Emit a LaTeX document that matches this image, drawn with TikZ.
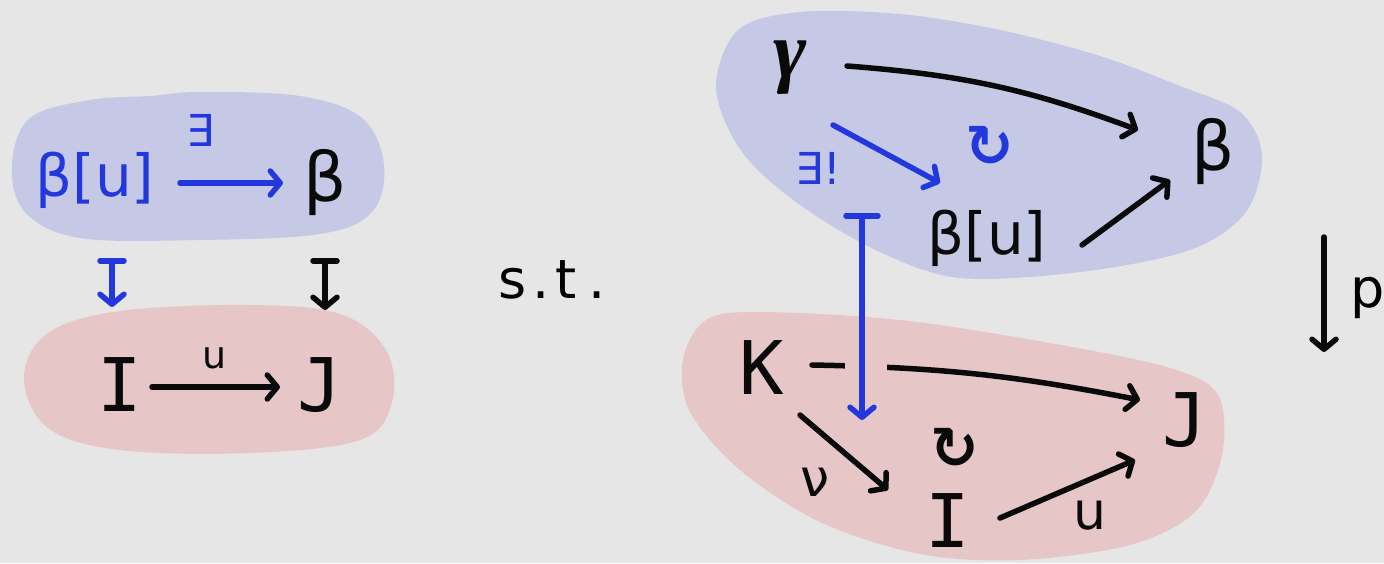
\documentclass[tikz,border=0pt]{standalone}
\usepackage{fontspec}
\usetikzlibrary{arrows.meta}
\newfontfamily\hand{DejaVu Sans}
\newfontfamily\handbold{DejaVu Sans Bold}
\newfontfamily\handmono{DejaVu Sans Mono}
\newfontfamily\loopfont{Liberation Serif}

\definecolor{paper}{HTML}{E6E6E6}
\definecolor{blueblob}{HTML}{C5C9E6}
\definecolor{pinkblob}{HTML}{E6C6C6}
\definecolor{ink}{HTML}{0A0A0A}
\definecolor{blueink}{HTML}{2238DC}

\tikzset{
  x=1pt, y=-1pt,
  >={Straight Barb[length=10pt,width=24pt,line cap=round,line join=round]},
  greek/.style={font=\hand\fontsize{68}{68}\selectfont, inner sep=0pt, text=ink},
  smallgreek/.style={font=\hand\fontsize{58}{58}\selectfont, inner sep=0pt, text=ink},
  letter/.style={font=\handmono\fontsize{74}{74}\selectfont, inner sep=0pt, text=ink},
  lbl/.style={font=\hand\fontsize{44}{44}\selectfont, inner sep=0pt, text=ink},
  commute/.style={font=\handbold\fontsize{58}{58}\selectfont, inner sep=0pt, text=ink},
  arr/.style={->, line width=5.5pt, line cap=round, draw=ink},
  barr/.style={arr, draw=blueink},
  mapsto/.style={{Bar[width=24pt,line cap=round]}->, line width=5.5pt, line cap=round},
}

\begin{document}
\begin{tikzpicture}
\useasboundingbox (0,0) rectangle (1384,563);
\fill[paper] (0,0) rectangle (1384,563);

% ---- left square: regions ----
\fill[blueblob] plot[smooth cycle, tension=0.6] coordinates {
  (12,165) (30,118) (90,100) (150,96) (200,92) (300,96) (362,118) (384,165)
  (372,212) (320,234) (200,240) (80,238) (25,212)};
\fill[pinkblob] plot[smooth cycle, tension=0.6] coordinates {
  (24,378) (48,333) (120,311) (250,305) (340,314) (386,350) (392,402)
  (360,440) (250,453) (120,450) (48,428)};

% ---- right triangle: regions ----
\fill[blueblob] plot[smooth cycle, tension=0.55] coordinates {
  (716,88) (738,30) (800,12) (900,14) (1000,30) (1100,56) (1180,86)
  (1240,112) (1262,155) (1246,212) (1190,250) (1080,272) (960,278)
  (880,252) (800,205) (742,152)};
\fill[pinkblob] plot[smooth cycle, tension=0.55] coordinates {
  (683,360) (706,320) (760,312) (900,320) (1050,343) (1170,368)
  (1218,395) (1222,455) (1195,512) (1130,545) (1020,560) (920,554)
  (820,522) (740,470) (690,412)};

% ---- left square: objects ----
\node[smallgreek, text=blueink] (lbu) at (95,180) {β[u]};
\node[greek] (lb) at (325,183) {β};
\node[letter] (lI) at (120,385) {I};
\node[letter] (lJ) at (320,385) {J};
\node[lbl, text=blueink] (lex) at (200,130) {∃};
\node[lbl, font=\hand\fontsize{38}{38}\selectfont] (lu) at (215,358) {u};

\draw[barr] ([shift={(85,3)}]lbu.center) -- ([shift={(-42,0)}]lb.center);
\draw[mapsto, draw=blueink] ([shift={(17,78)}]lbu.center) -- ([shift={(-8,-78)}]lI.center);
\draw[mapsto, draw=ink] ([shift={(0,75)}]lb.center) -- ([shift={(5,-75)}]lJ.center);
\draw[arr] ([shift={(32,2)}]lI.center) -- ([shift={(-40,2)}]lJ.center);

% ---- such that ----
\node[font=\hand\fontsize{54}{54}\selectfont, inner sep=0pt] (st) at (552,280)
  {s\kern6pt.\kern6pt t\kern12pt.};

% ---- right triangle: objects ----
\node[inner sep=0pt, text=ink, font=\loopfont\bfseries\itshape\fontsize{80}{80}\selectfont] (gam) at (790,68) {γ};
\node[greek] (rb) at (1213,152) {β};
\node[smallgreek] (rbu) at (987,238) {β[u]};
\node[letter] (K) at (762,368) {K};
\node[letter] (rJ) at (1185,420) {J};
\node[letter] (rI) at (948,521) {I};
\node[lbl, text=blueink] (rex) at (818,168) {∃!};
\node[commute, text=blueink] (cir1) at (990,146) {↻};
\node[commute] (cir2) at (955,448) {↻};
\node[lbl, font=\hand\fontsize{52}{52}\selectfont] (nu) at (815,482) {ν};
\node[lbl, font=\hand\fontsize{52}{52}\selectfont] (ru) at (1090,515) {u};

\draw[arr] ([shift={(57,-2)}]gam.center) to[bend left=8] ([shift={(-75,-22)}]rb.center);
\draw[barr] ([shift={(43,57)}]gam.center) -- ([shift={(-47,-55)}]rbu.center);
\draw[arr] ([shift={(95,7)}]rbu.center) -- ([shift={(-43,28)}]rb.center);
\draw[arr] ([shift={(50,-3)}]K.center) to[bend left=5] ([shift={(-45,-20)}]rJ.center);
\draw[arr] ([shift={(38,47)}]K.center) -- ([shift={(-60,-31)}]rI.center);
\draw[arr] ([shift={(52,-3)}]rI.center) -- ([shift={(-50,40)}]rJ.center);

% the lifting map passes over the arrow K -> J
\coordinate (liftTop) at (862,213);
\coordinate (liftBot) at (862,420);
\fill[pinkblob] (845,350) rectangle (887,382);
\draw[mapsto, draw=blueink, {Bar[width=32pt,line cap=round]}->] (liftTop) -- (liftBot);

% ---- projection p ----
\coordinate (pTop) at (1324,237);
\coordinate (pBot) at (1324,352);
\draw[arr] (pTop) -- (pBot);
\node[font=\hand\fontsize{54}{54}\selectfont, inner sep=0pt] (p) at (1368,298) {p};
\end{tikzpicture}
\end{document}
